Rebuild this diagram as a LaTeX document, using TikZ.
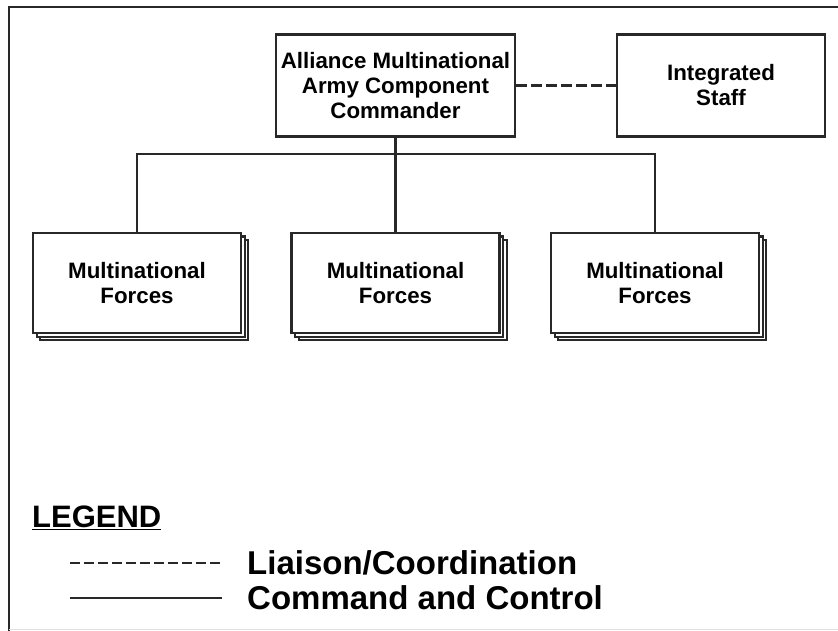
\documentclass[tikz,border=0pt]{standalone}
\usepackage{fontspec}
\setmainfont{Liberation Sans}
\usepackage{tikz}
\usetikzlibrary{positioning, shadows, calc}
\definecolor{framecolor}{RGB}{40,40,40}
\definecolor{basecolor}{RGB}{225,225,225}

\begin{document}
\begin{tikzpicture}[
    x=1pt, y=-1pt,
    unit/.style={draw=framecolor, line width=2.4pt, fill=white, align=center, inner sep=0pt, font=\fontsize{22.3}{25}\selectfont\bfseries},
    forces/.style={unit, minimum width=208pt, minimum height=100pt, double copy shadow={shadow xshift=3.6pt, shadow yshift=-3.6pt, fill=white, draw=framecolor, line width=2.2pt}},
    command/.style={draw=framecolor, line width=2.2pt},
    liaison/.style={draw=framecolor, line width=2.4pt, dash pattern=on 11pt off 4pt},
    legendtext/.style={anchor=west, inner sep=0pt, font=\fontsize{33}{37}\selectfont\bfseries}
]
    \useasboundingbox (0,0) rectangle (838,631);
    % Frame
    \draw[line width=2.6pt, framecolor] (9,631) -- (9,7) -- (838,7);
    \draw[line width=1pt, basecolor] (9,629.5) -- (838,629.5);

    % Headquarters
    \node[unit, minimum width=239pt, minimum height=102pt] (acc) at (395.5,85.5) {Alliance Multinational\\Army Component\\Commander};
    \node[unit, minimum width=208pt, minimum height=102pt] (staff) at (721,85.5) {Integrated\\Staff};

    % Forces
    \node[forces] (mf1) at (137,283) {Multinational\\Forces};
    \node[forces] (mf2) at (395.5,283) {Multinational\\Forces};
    \node[forces] (mf3) at (655,283) {Multinational\\Forces};

    % Connections
    \coordinate (bar) at (0,154);
    \draw[liaison] (acc.east) -- (staff.west);
    \draw[command] (acc.south) -- (mf2.north);
    \draw[command] (mf1.north) -- (mf1.north |- bar) -- (mf3.north |- bar) -- (mf3.north);

    % Legend
    \node[anchor=base west, inner sep=0pt, font=\fontsize{31}{35}\selectfont\bfseries] (legend) at (32,527) {\underline{LEGEND}};
    \coordinate (dashA) at (70,563);
    \coordinate (dashB) at (222,563);
    \coordinate (lineA) at (70,598);
    \coordinate (lineB) at (222,598);
    \draw[liaison, dash pattern=on 10pt off 4pt] (dashA) -- (dashB);
    \draw[command, line width=2.6pt] (lineA) -- (lineB);
    \node[legendtext] (liaisontext) at (247,563) {Liaison/Coordination};
    \node[legendtext] (commandtext) at (247,598) {Command and Control};
\end{tikzpicture}
\end{document}
